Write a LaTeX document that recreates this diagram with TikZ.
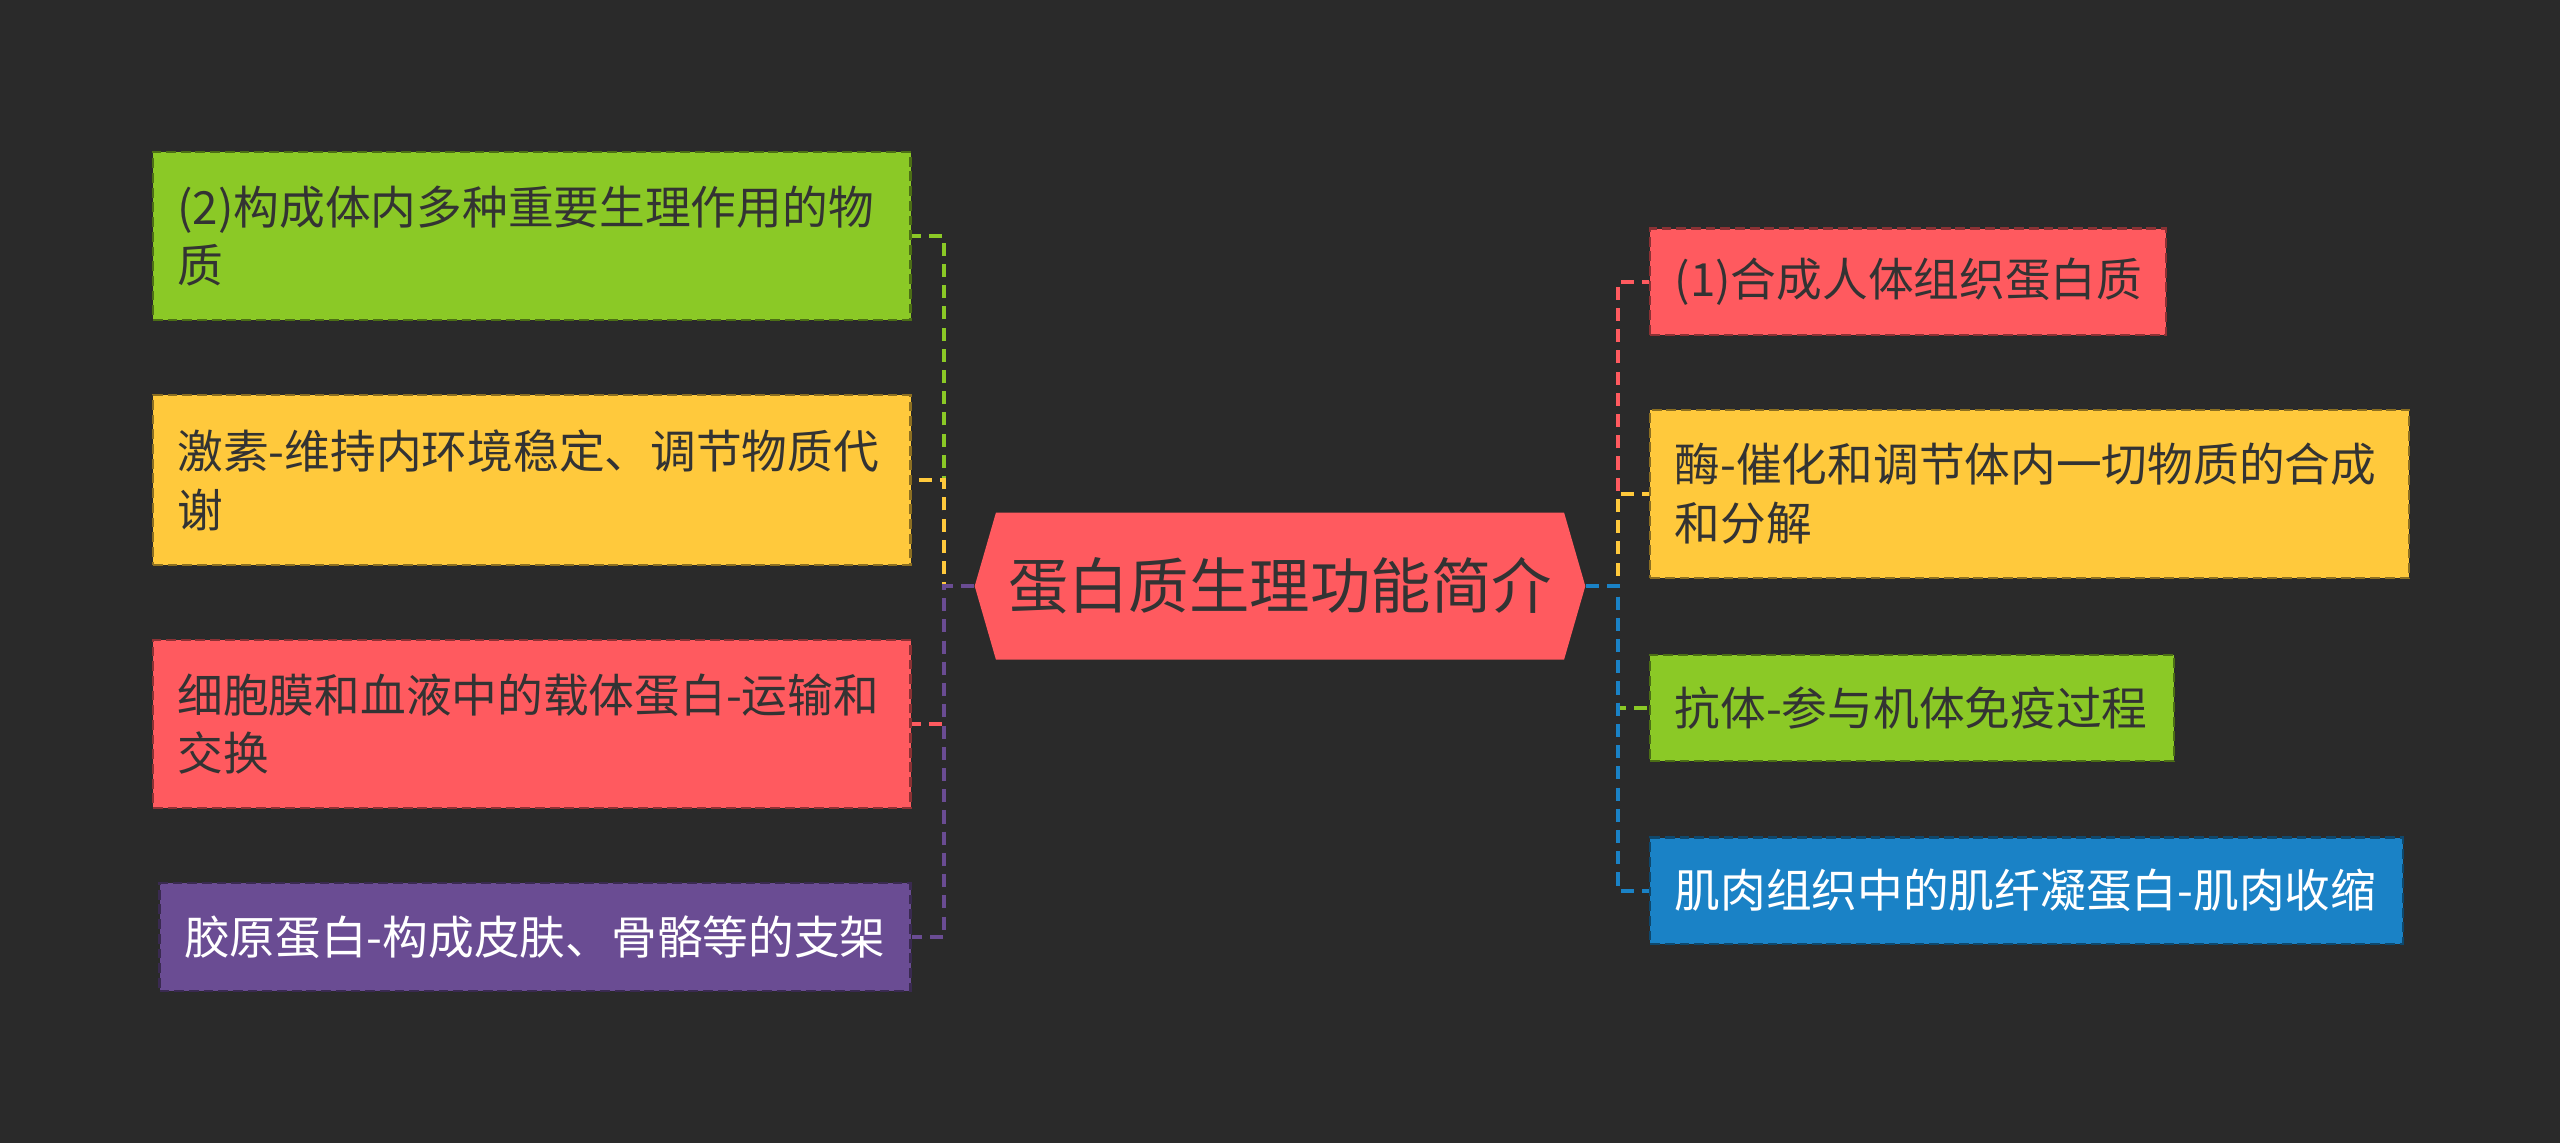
\documentclass[tikz,border=0pt]{standalone}
\usepackage{fontspec}
\setmainfont{Noto Sans CJK SC}
\usepackage{xcolor}
\usepackage{tikz}

\definecolor{bgc}{HTML}{2A2A2A}
\definecolor{greenc}{HTML}{8BC926}
\definecolor{yellowc}{HTML}{FFC93C}
\definecolor{redc}{HTML}{FF5A5F}
\definecolor{purplec}{HTML}{6A4C93}
\definecolor{bluec}{HTML}{1A82C6}
\definecolor{darktext}{HTML}{333333}

\begin{document}
\begin{tikzpicture}[x=0.5pt,y=0.5pt,yscale=-1,xscale=1,
  leaf/.style={anchor=west, inner xsep=7.5pt, inner ysep=0pt, align=left,
    fill=#1, draw=#1!55!black, dash pattern=on 3pt off 1.5pt, line width=0.7pt,
    font=\fontsize{14pt}{18pt}\selectfont, text=darktext},
  link/.style={draw=#1, dash pattern=on 4pt off 2.5pt, line width=1.2pt}]

\useasboundingbox (0,0) rectangle (1568,700);
\fill[bgc] (0,0) rectangle (1568,700);

% centre
\fill[redc] (597,359) -- (610,314) -- (958,314) -- (971,359) -- (958,404) -- (610,404) -- cycle;
\node (c) at (784,359) [minimum width=187pt, minimum height=45pt, inner sep=0pt, text=darktext, font=\fontsize{18.5pt}{22pt}\selectfont] {蛋白质生理功能简介};

\coordinate (lbus) at (578,359);
\coordinate (rbus) at (991,359);

% left side
\node (lg) at (93,144.5) [leaf=greenc, text width=217pt, minimum height=51.5pt] {(2)构成体内多种重要生理作用的物\\质};
\node (ly) at (93,294) [leaf=yellowc, text width=217pt, minimum height=52pt] {激素-维持内环境稳定、调节物质代\\谢};
\node (lr) at (93,443.5) [leaf=redc, text width=217pt, minimum height=51.5pt] {细胞膜和血液中的载体蛋白-运输和\\交换};
\node (lp) at (97,574) [leaf=purplec, text width=215pt, minimum height=33pt, text=white] {胶原蛋白-构成皮肤、骨骼等的支架};

% right side
\node (rr) at (1010,172.5) [leaf=redc, text width=143pt, minimum height=32.5pt] {(1)合成人体组织蛋白质};
\node (ry) at (1010,302.5) [leaf=yellowc, text width=217.5pt, minimum height=51.5pt] {酶-催化和调节体内一切物质的合成\\和分解};
\node (rg) at (1010,433.5) [leaf=greenc, text width=145.5pt, minimum height=32.5pt] {抗体-参与机体免疫过程};
\node (rb) at (1010,545.5) [leaf=bluec, text width=215.5pt, minimum height=32.5pt, text=white] {肌肉组织中的肌纤凝蛋白-肌肉收缩};

% links
\draw[link=greenc] (c.west) -- (lbus) |- (lg.east);
\draw[link=yellowc] (c.west) -- (lbus) |- (ly.east);
\draw[link=redc] (c.west) -- (lbus) |- (lr.east);
\draw[link=purplec] (c.west) -- (lbus) |- (lp.east);

\draw[link=redc] (c.east) -- (rbus) |- (rr.west);
\draw[link=yellowc] (c.east) -- (rbus) |- (ry.west);
\draw[link=greenc] (c.east) -- (rbus) |- (rg.west);
\draw[link=bluec] (c.east) -- (rbus) |- (rb.west);

\end{tikzpicture}
\end{document}
